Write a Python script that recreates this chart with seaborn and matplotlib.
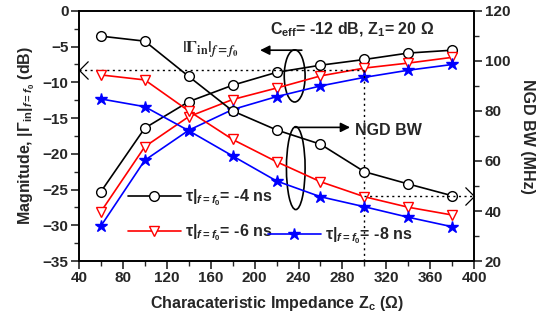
import numpy as np
import pandas as pd
import matplotlib
matplotlib.use("Agg")
import matplotlib.pyplot as plt
from matplotlib.patches import Ellipse
from matplotlib.path import Path
from matplotlib.ticker import MultipleLocator
import seaborn as sns

# Characteristic impedance sweep (ohm)
z_c = [60, 100, 140, 180, 220, 260, 300, 340, 380]

# |Gamma_in| at f0 (dB) for each group-delay target
gamma_4ns = [-25.3, -16.4, -12.7, -10.4, -8.6, -7.6, -6.8, -5.9, -5.5]
gamma_6ns = [-28.1, -19.0, -14.8, -12.4, -10.8, -9.1, -8.0, -7.3, -6.5]
gamma_8ns = [-30.1, -20.9, -16.7, -13.8, -12.0, -10.5, -9.3, -8.3, -7.5]

# NGD bandwidth (MHz)
bw_4ns = [109.9, 107.9, 93.8, 80.0, 72.4, 66.7, 55.7, 50.8, 46.1]
bw_6ns = [94.4, 92.4, 80.0, 68.6, 59.7, 51.7, 45.7, 41.5, 38.4]
bw_8ns = [84.8, 81.7, 72.1, 62.0, 52.0, 45.7, 41.7, 37.5, 33.7]

series_labels = [r"τ|$_{f=f_0}$= -4 ns", r"τ|$_{f=f_0}$= -6 ns", r"τ|$_{f=f_0}$= -8 ns"]

# Design point marked by the guide lines
z_design = 300
gamma_design = -8.3
bw_design = 46

sns.set_theme(style="ticks")
plt.rcParams["font.family"] = ["Liberation Sans", "DejaVu Sans"]
plt.rcParams["font.weight"] = "bold"
plt.rcParams["axes.labelweight"] = "bold"
plt.rcParams["mathtext.fontset"] = "custom"
plt.rcParams["mathtext.rm"] = "Liberation Sans:bold"
plt.rcParams["mathtext.it"] = "Liberation Sans:italic:bold"
plt.rcParams["mathtext.bf"] = "Liberation Sans:bold"

fig = plt.figure(figsize=(5.37, 3.30), dpi=100)
ax = fig.add_axes([0.147, 0.209, 0.736, 0.758])
ax2 = ax.twinx()

styles = [
    dict(color="black", marker="o", mfc="white", mec="black"),
    dict(color="#ff0000", marker="v", mfc="white", mec="#ff0000"),
    dict(color="#0000ff", marker="*", mfc="#0000ff", mec="#0000ff"),
]
gammas = [gamma_4ns, gamma_6ns, gamma_8ns]
bws = [bw_4ns, bw_6ns, bw_8ns]

handles = []
for g, b, st, lab in zip(gammas, bws, styles, series_labels):
    ms = 9 if st["marker"] == "*" else 7
    kw = dict(color=st["color"], marker=st["marker"], markerfacecolor=st["mfc"],
              markeredgecolor=st["mec"], markersize=ms, markeredgewidth=1.0,
              linewidth=1.2)
    sns.lineplot(x=z_c, y=g, ax=ax, **kw)
    sns.lineplot(x=z_c, y=b, ax=ax2, **kw)
    handles.append(plt.Line2D([], [], label=lab, **kw))

ax.set_xlim(40, 400)
ax.set_ylim(-35, 0)
ax2.set_ylim(20, 120)

ax.xaxis.set_major_locator(MultipleLocator(40))
ax.xaxis.set_minor_locator(MultipleLocator(20))
ax.yaxis.set_major_locator(MultipleLocator(5))
ax.yaxis.set_minor_locator(MultipleLocator(2.5))
ax2.yaxis.set_major_locator(MultipleLocator(20))
ax2.yaxis.set_minor_locator(MultipleLocator(10))

for a in (ax, ax2):
    a.tick_params(which="major", direction="out", length=6, width=1.2, labelsize=11, pad=1.5)
    a.tick_params(which="minor", direction="out", length=3.5, width=1.0)
    for s in a.spines.values():
        s.set_linewidth(1.2)
        s.set_color("black")
ax.tick_params(axis="y", right=False)
ax.tick_params(axis="x", top=False)

ax.set_xlabel(r"Characateristic Impedance Z$_\mathrm{c}$ (Ω)", fontsize=11.5, labelpad=6)
ax.set_ylabel(r"Magnitude, |Γ$_\mathrm{in}$|$_{f=f_0}$ (dB)", fontsize=11.5, labelpad=4)
ax2.set_ylabel("NGD BW (MHz)", fontsize=11.5, rotation=270, labelpad=18)

# Guide lines through the design point
ax.plot([40, z_design], [gamma_design, gamma_design], ls=(0, (1.5, 2.5)), color="black", lw=1.0)
ax.plot([z_design, z_design], [gamma_design, -35], ls=(0, (1.5, 2.5)), color="black", lw=1.0)
ax2.plot([z_design, 400], [bw_design, bw_design], ls=(0, (1.5, 2.5)), color="black", lw=1.0)

chev_left = Path([(1, 1), (0, 0), (1, -1)], [Path.MOVETO, Path.LINETO, Path.LINETO])
chev_right = Path([(-1, 1), (0, 0), (-1, -1)], [Path.MOVETO, Path.LINETO, Path.LINETO])
ax.plot([40], [gamma_design], marker=chev_left, markersize=13, mfc="none", mec="black",
        mew=0.9, clip_on=False)
ax2.plot([400], [bw_design], marker=chev_right, markersize=13, mfc="none", mec="black",
         mew=0.9, clip_on=False)

# Ellipses grouping the curves, with pointer arrows
ax.add_patch(Ellipse((236.5, -9.1), 19, 7.3, fill=False, lw=1.2, ec="black"))
ax.add_patch(Ellipse((237.5, -22.0), 17, 11.6, fill=False, lw=1.2, ec="black"))
ax.annotate("", xy=(205, -5.5), xytext=(243, -5.5),
            arrowprops=dict(arrowstyle="-|>", color="black", lw=1.2,
                            mutation_scale=14, shrinkA=0, shrinkB=0))
ax.annotate("", xy=(287, -16.3), xytext=(237, -16.3),
            arrowprops=dict(arrowstyle="-|>", color="black", lw=1.2,
                            mutation_scale=14, shrinkA=0, shrinkB=0))

ax.text(134, -5.4, r"$|\Gamma_{\mathbf{in}}|_{f=f_0}$", fontsize=12.5, va="center",
        ha="left", math_fontfamily="stix")
ax.text(214, -2.6, r"C$_\mathrm{eff}$= -12 dB, Z$_\mathrm{1}$= 20 Ω", fontsize=11.5,
        va="center", ha="left")
ax.text(291, -16.7, "NGD BW", fontsize=11.5, va="center", ha="left")

leg1 = ax.legend(handles=handles[:2], loc="center left", bbox_to_anchor=(0.124, 0.184),
                 frameon=False, fontsize=11.5, handlelength=3.3, handletextpad=0.3,
                 borderpad=0, borderaxespad=0, labelspacing=0.9)
ax.add_artist(leg1)
ax.legend(handles=handles[2:], loc="center left", bbox_to_anchor=(0.478, 0.10),
          frameon=False, fontsize=11.5, handlelength=3.3, handletextpad=0.3,
          borderpad=0, borderaxespad=0)

fig.savefig("out.png", dpi=100)
